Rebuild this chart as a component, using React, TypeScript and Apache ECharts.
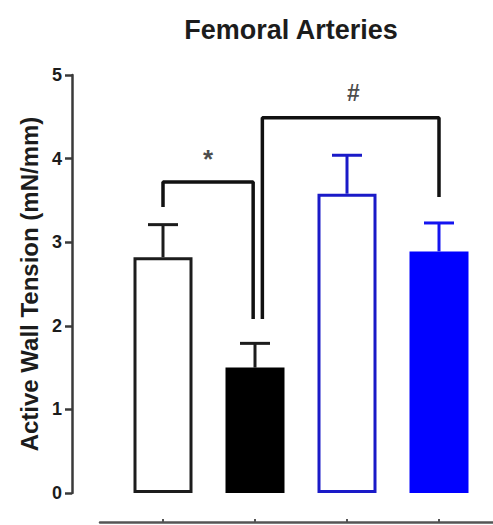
import React, { useEffect, useRef } from "react";
import * as echarts from "echarts";

const groups = ["Control", "Treated", "Control (blue)", "Treated (blue)"];
const means = [2.82, 1.5, 3.58, 2.89];
const sems = [0.39, 0.29, 0.46, 0.34];
const yTicks = [0, 1, 2, 3, 4, 5];

// significance brackets: [x, y] vertices on the bar-position scale (0..3)
const starBracket = [
  [0, 3.42],
  [0, 3.72],
  [0.98, 3.72],
  [0.98, 2.08],
];
const hashBracket = [
  [1.08, 2.08],
  [1.08, 4.49],
  [3.0, 4.49],
  [3.0, 3.54],
];
const sigMarks = [
  { name: "*", value: [0.49, 4.0], size: 26 },
  { name: "#", value: [2.07, 4.78], size: 23 },
];

const FONT = "'Liberation Sans', Arial, Helvetica, sans-serif";
const INK = "#1c1c1c";
const BLUE_EDGE = "#1a1ac8";
const BLUE_FILL = "#0000ff";

const barStyles = [
  { color: "#ffffff", borderColor: INK, borderWidth: 3 },
  { color: "#000000", borderColor: "#000000", borderWidth: 3 },
  { color: "#ffffff", borderColor: BLUE_EDGE, borderWidth: 3 },
  { color: BLUE_FILL, borderColor: BLUE_FILL, borderWidth: 3 },
];
const errColors = [INK, INK, BLUE_EDGE, "#1414f0"];

export default function App() {
  const ref = useRef<HTMLDivElement>(null);

  useEffect(() => {
    document.body.style.margin = "0";
    if (!ref.current) return;
    const chart = echarts.init(ref.current, null, { renderer: "svg" });

    const bracketSeries = (pts: number[][]) => ({
      type: "line",
      xAxisIndex: 1,
      yAxisIndex: 0,
      data: pts,
      symbol: "none",
      lineStyle: { color: "#111", width: 3.5 },
      z: 5,
      silent: true,
    });

    chart.setOption({
      animation: false,
      title: {
        text: "Femoral Arteries",
        left: 286,
        top: 11,
        textAlign: "center",
        textStyle: { fontFamily: FONT, fontSize: 27, fontWeight: "bold", color: INK },
      },
      grid: [
        { left: 117, width: 368, top: 75, bottom: 32 },
        { left: 100, right: -10, top: 75, bottom: 32 },
      ],
      xAxis: [
        {
          type: "category",
          gridIndex: 0,
          data: groups,
          position: "bottom",
          offset: 29,
          axisLine: { show: false, onZero: false },
          axisTick: {
            show: true,
            inside: true,
            interval: 0,
            alignWithLabel: true,
            length: 3,
            lineStyle: { color: "#555", width: 2 },
          },
          axisLabel: { show: false, interval: 0 },
        },
        {
          type: "value",
          gridIndex: 0,
          min: -0.5,
          max: 3.5,
          show: false,
          axisLine: { onZero: false },
        },
        {
          type: "value",
          gridIndex: 1,
          min: 0,
          max: 1,
          position: "bottom",
          offset: 29,
          axisLine: { show: true, onZero: false, lineStyle: { color: "#555", width: 2.5 } },
          axisTick: { show: false },
          axisLabel: { show: false },
          splitLine: { show: false },
        },
      ],
      yAxis: [
        {
          type: "value",
          gridIndex: 0,
          min: yTicks[0],
          max: yTicks[yTicks.length - 1],
          interval: 1,
          position: "left",
          offset: 45,
          name: "Active Wall Tension (mN/mm)",
          nameLocation: "middle",
          nameGap: 30,
          nameTextStyle: { fontFamily: FONT, fontSize: 24, fontWeight: "bold", color: INK },
          axisLine: { show: true, onZero: false, lineStyle: { color: "#3a3a3a", width: 2.5 } },
          axisTick: { show: true, inside: false, length: 7, lineStyle: { color: "#3a3a3a", width: 2.5 } },
          axisLabel: {
            margin: 10,
            fontFamily: FONT,
            fontSize: 18,
            fontWeight: "bold",
            color: INK,
          },
          splitLine: { show: false },
        },
        {
          type: "value",
          gridIndex: 1,
          min: 0,
          max: 5,
          show: false,
          axisLine: { onZero: false },
        },
      ],
      series: [
        {
          type: "bar",
          xAxisIndex: 0,
          yAxisIndex: 0,
          barWidth: 59,
          data: means.map((v, i) => ({ value: v, itemStyle: barStyles[i] })),
          z: 2,
        },
        {
          type: "custom",
          xAxisIndex: 0,
          yAxisIndex: 0,
          z: 3,
          data: means.map((m, i) => [i, m + sems[i], m]),
          renderItem: (params: any, api: any) => {
            const i = api.value(0);
            const top = api.coord([i, api.value(1)]);
            const base = api.coord([i, api.value(2)]);
            const color = errColors[params.dataIndex];
            const half = 15;
            const style = { stroke: color, lineWidth: 3 };
            return {
              type: "group",
              children: [
                { type: "line", shape: { x1: base[0], y1: base[1], x2: top[0], y2: top[1] }, style },
                { type: "line", shape: { x1: top[0] - half, y1: top[1], x2: top[0] + half, y2: top[1] }, style },
              ],
            };
          },
        },
        bracketSeries(starBracket),
        bracketSeries(hashBracket),
        {
          type: "scatter",
          xAxisIndex: 1,
          yAxisIndex: 0,
          symbolSize: 0,
          data: sigMarks.map((m) => ({
            name: m.name,
            value: m.value,
            label: { fontSize: m.size },
          })),
          label: {
            show: true,
            position: "inside",
            formatter: (p: any) => p.name,
            fontFamily: FONT,
            fontWeight: "bold",
            color: INK,
          },
          z: 6,
          silent: true,
        },
      ],
    });

    return () => chart.dispose();
  }, []);

  return <div ref={ref} style={{ width: 493, height: 525 }} />;
}
